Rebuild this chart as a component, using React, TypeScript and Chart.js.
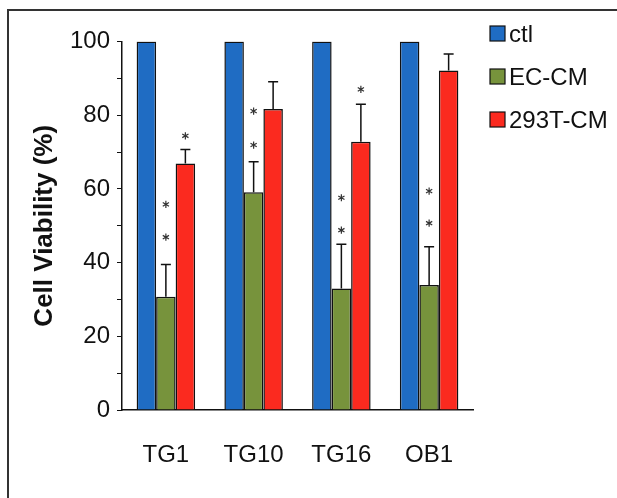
import React, { useEffect, useRef } from 'react';
import { Chart, registerables } from 'chart.js';

Chart.register(...registerables);

// ---- data ----
const categories = ['TG1', 'TG10', 'TG16', 'OB1'];
const seriesNames = ['ctl', 'EC-CM', '293T-CM'];
const ctlValues = [100, 100, 100, 100];
const ecValues = [30.7, 59.1, 33.0, 33.9];
const t293Values = [66.9, 81.7, 72.8, 92.1];
const ctlErrors: (number | null)[] = [null, null, null, null];
const ecErrors = [8.8, 8.3, 12.0, 10.4];
const t293Errors = [3.8, 7.4, 10.2, 4.5];
// significance asterisks (value positions, in % units)
const ctlStars: number[][] = [[], [], [], []];
const ecStars: number[][] = [[46.9, 55.8], [71.9, 81.1], [48.8, 57.6], [50.7, 59.4]];
const t293Stars: number[][] = [[74.4], [], [87.0], []];
const yTickLabels = [0, 20, 40, 60, 80, 100];
const yAxisTitle = 'Cell Viability (%)';

// ---- styles ----
const colors = ['#1f6cc3', '#77933c', '#fb2a1f'];
const FONT = "'Liberation Sans', Arial, sans-serif";

const errorPlugin = {
  id: 'errorBarsStars',
  afterDatasetsDraw(chart: any) {
    const ctx = chart.ctx;
    const yScale = chart.scales.y;
    const errs = [ctlErrors, ecErrors, t293Errors];
    const stars = [ctlStars, ecStars, t293Stars];
    chart.data.datasets.forEach((ds: any, di: number) => {
      const meta = chart.getDatasetMeta(di);
      meta.data.forEach((bar: any, i: number) => {
        const e = errs[di][i];
        const x = bar.x;
        if (e != null) {
          const yTop = yScale.getPixelForValue(ds.data[i] + e);
          const yBar = yScale.getPixelForValue(ds.data[i]);
          ctx.save();
          ctx.strokeStyle = '#111';
          ctx.lineWidth = 1.5;
          ctx.beginPath();
          ctx.moveTo(x, yBar);
          ctx.lineTo(x, yTop);
          ctx.moveTo(x - 5, yTop);
          ctx.lineTo(x + 5, yTop);
          ctx.stroke();
          ctx.restore();
        }
        for (const s of stars[di][i]) {
          const y = yScale.getPixelForValue(s);
          const r = 3.6;
          ctx.save();
          ctx.strokeStyle = '#333';
          ctx.lineWidth = 1.2;
          ctx.beginPath();
          for (const a of [90, 30, 150]) {
            const rad = (a * Math.PI) / 180;
            ctx.moveTo(x - r * Math.cos(rad), y - r * Math.sin(rad));
            ctx.lineTo(x + r * Math.cos(rad), y + r * Math.sin(rad));
          }
          ctx.stroke();
          ctx.restore();
        }
      });
    });
  },
};

const legendPlugin = {
  id: 'customLegend',
  afterDraw(chart: any) {
    const ctx = chart.ctx;
    const left = 490;
    const top = 26;
    const step = 43;
    const box = 15;
    ctx.save();
    chart.data.datasets.forEach((ds: any, i: number) => {
      const y = top + i * step;
      ctx.fillStyle = ds.backgroundColor;
      ctx.fillRect(left, y, box, box);
      ctx.strokeStyle = '#111';
      ctx.lineWidth = 1.2;
      ctx.strokeRect(left, y, box, box);
      ctx.fillStyle = '#111';
      ctx.font = `24px ${FONT}`;
      ctx.textAlign = 'left';
      ctx.textBaseline = 'alphabetic';
      ctx.fillText(ds.label, left + box + 4, y + 16);
    });
    ctx.restore();
  },
};

export default function App() {
  const ref = useRef<HTMLCanvasElement>(null);

  useEffect(() => {
    if (!ref.current) return;
    const values = [ctlValues, ecValues, t293Values];
    const chart = new Chart(ref.current, {
      type: 'bar',
      data: {
        labels: categories,
        datasets: seriesNames.map((name, i) => ({
          label: name,
          data: values[i],
          backgroundColor: colors[i],
          borderColor: '#111',
          borderWidth: 1.5,
          borderSkipped: 'bottom',
          categoryPercentage: 2 / 3,
          barPercentage: 1,
        })),
      },
      options: {
        responsive: false,
        animation: false,
        devicePixelRatio: 1,
        layout: { padding: { top: 41.5, right: 144, bottom: 0, left: 0 } },
        plugins: {
          legend: { display: false },
          tooltip: { enabled: false },
        },
        scales: {
          x: {
            afterFit: (s: any) => {
              s.height = 88;
            },
            grid: { display: false, drawTicks: false },
            border: { display: true, color: '#111', width: 1.5 },
            ticks: {
              color: '#111',
              padding: 31,
              font: { family: FONT, size: 24 },
            },
          },
          y: {
            min: 0,
            max: 100,
            afterFit: (s: any) => {
              s.width = 122;
            },
            grid: {
              display: true,
              drawOnChartArea: false,
              drawTicks: true,
              tickLength: 5,
              color: '#111',
              lineWidth: 1,
            },
            border: { display: true, color: '#111', width: 1.5 },
            ticks: {
              stepSize: 10,
              autoSkip: false,
              padding: 7,
              color: '#111',
              font: { family: FONT, size: 24 },
              callback: (v: any) => (yTickLabels.includes(Number(v)) ? String(v) : ''),
            },
            title: {
              display: true,
              text: yAxisTitle,
              color: '#111',
              font: { family: FONT, size: 26, weight: 'bold' },
              padding: { top: 29, bottom: 0 },
            },
          },
        },
      },
      plugins: [errorPlugin, legendPlugin],
    } as any);
    return () => chart.destroy();
  }, []);

  return (
    <div style={{ position: 'fixed', left: 0, top: 0, width: 617, height: 498, background: '#fff' }}>
      <div
        style={{
          position: 'absolute',
          left: 7,
          top: 8.5,
          width: 610,
          height: 490,
          borderTop: '2px solid #333',
          borderLeft: '2px solid #333',
          boxSizing: 'border-box',
        }}
      />
      <canvas
        ref={ref}
        width={617}
        height={498}
        style={{ position: 'absolute', left: 0, top: 0, width: 617, height: 498 }}
      />
    </div>
  );
}
